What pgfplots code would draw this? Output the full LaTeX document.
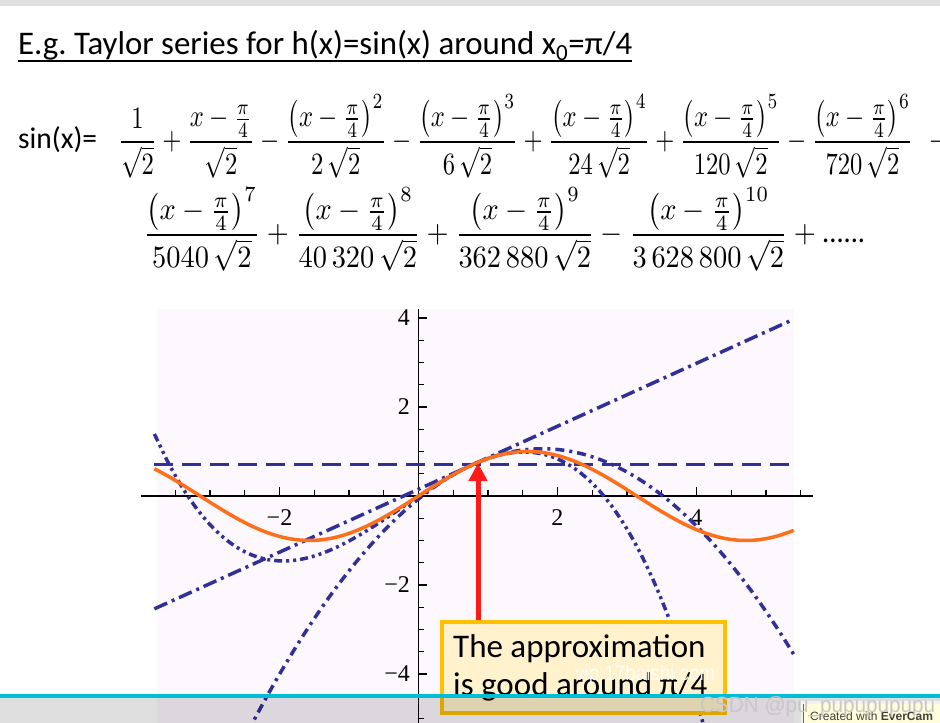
\documentclass[border=0pt]{standalone}
\usepackage{fontspec}
\setmainfont{Carlito}
\newfontfamily\tms{Liberation Serif}
\newfontfamily\arl{Liberation Sans}
\usepackage{graphicx}
\usepackage{pgfplots}
\pgfplotsset{compat=1.18}
\usetikzlibrary{arrows.meta}
\definecolor{mblue}{RGB}{48,48,150}
\definecolor{morange}{RGB}{255,110,25}
\definecolor{lav}{RGB}{252,248,254}
\definecolor{boxfill}{RGB}{255,242,204}
\definecolor{boxedge}{RGB}{255,192,0}
\definecolor{cyanl}{RGB}{0,190,215}
\definecolor{arrred}{RGB}{255,25,25}
\newcommand{\qf}{{\textstyle\frac{\pi}{4}}}
\newcommand{\pf}[1]{\left(x-\qf\right)^{#1}}
\frenchspacing
\begin{document}
\begin{tikzpicture}
\clip (0,0) rectangle (940pt,-723pt);
\fill[white] (0,0) rectangle (940pt,-723pt);
\fill[black!12] (0,0) rectangle (940pt,-6pt);
% title
\node[anchor=base west, inner sep=0pt] at (18pt,-54pt)
  {\resizebox{614pt}{\height}{\fontsize{33}{33}\selectfont E.g. Taylor series for h(x)=sin(x) around x\textsubscript{0}=π/4}};
\draw[line width=2pt] (18pt,-60.5pt) -- (632pt,-60.5pt);
% formula
\node[anchor=base west, inner sep=0pt] at (18pt,-148.5pt)
  {\resizebox{79pt}{\height}{\fontsize{30}{30}\selectfont sin(x)=}};
\node[anchor=base west, inner sep=0pt] at (118pt,-149.75pt)
  {\resizebox{795pt}{\height}{\scalebox{3.1}{$\displaystyle \frac{1}{\sqrt{2}}+\frac{x-\qf}{\sqrt{2}}-\frac{\pf{2}}{2\,\sqrt{2}}-\frac{\pf{3}}{6\,\sqrt{2}}+\frac{\pf{4}}{24\,\sqrt{2}}+\frac{\pf{5}}{120\,\sqrt{2}}-\frac{\pf{6}}{720\,\sqrt{2}}$}}};
\node[anchor=base west, inner sep=0pt] at (929pt,-149.75pt)
  {\resizebox{16pt}{\height}{\scalebox{3.1}{$-$}}};
\node[anchor=base west, inner sep=0pt] at (143pt,-242.75pt)
  {\resizebox{722pt}{\height}{\scalebox{3.1}{$\displaystyle \frac{\pf{7}}{5040\,\sqrt{2}}+\frac{\pf{8}}{40\,320\,\sqrt{2}}+\frac{\pf{9}}{362\,880\,\sqrt{2}}-\frac{\pf{10}}{3\,628\,800\,\sqrt{2}}+\mbox{......}$}}};
% plot region tint
\fill[lav] (156.5pt,-309pt) rectangle (793.8pt,-723pt);
% plot
\begin{axis}[
  at={(140.5pt,-723pt)}, anchor=south west,
  scale only axis, width=672pt, height=414pt,
  xmin=-4, xmax=5.67, ymin=-5.1, ymax=4.2,
  axis lines=middle,
  axis line style={-, line width=1.6pt, black},
  every inner x axis line/.append style={-},
  every inner y axis line/.append style={-},
  xtick={-2,2,4}, xticklabels={−2,2,4},
  ytick={-4,-2,2,4}, yticklabels={−4,−2,2,4},
  minor xtick={-3.5,-3,...,5.5},
  minor ytick={-5,-4.5,...,4},
  tick align=inside,
  major tick length=9pt, minor tick length=6pt,
  every tick/.style={line width=1.3pt, black},
  every minor tick/.style={line width=1.3pt, black},
  ticklabel style={font=\tms\fontsize{24}{24}\selectfont},
  xticklabel style={yshift=-10pt},
  yticklabel style={xshift=-5pt},
  clip=true,
]
% zeroth order
\addplot[mblue, line width=3.5pt, dash pattern=on 19pt off 9pt] coordinates {(-3.8,0.7071) (5.4,0.7071)};
% first order
\addplot[mblue, line width=3.5pt, dash pattern=on 14pt off 5pt on 3pt off 5pt] coordinates {(-3.8,-2.5353) (5.4,3.9702)};
% second order
\addplot[mblue, line width=3.5pt, smooth, dash pattern=on 9pt off 5pt on 3pt off 5pt] coordinates {
(-2.6,-5.7388) (-2.4,-5.1328) (-2.2,-4.5550) (-2.0,-4.0055) (-1.8,-3.4843) (-1.6,-2.9914) (-1.4,-2.5268) (-1.2,-2.0904) (-1.0,-1.6824) (-0.8,-1.3026) (-0.6,-0.9511) (-0.4,-0.6279) (-0.2,-0.3330) (0,-0.0663) (0.2,0.1720) (0.4,0.3821) (0.6,0.5639) (0.8,0.7174) (1.0,0.8426) (1.2,0.9395) (1.4,1.0082) (1.6,1.0485) (1.8,1.0606) (2.0,1.0444) (2.2,0.9999) (2.4,0.9271) (2.6,0.8261) (2.8,0.6967) (3.0,0.5391) (3.2,0.3532) (3.4,0.1390) (3.6,-0.1035) (3.8,-0.3743) (4.0,-0.6733) (4.2,-1.0007) (4.4,-1.3563) (4.6,-1.7402) (4.8,-2.1524) (5.0,-2.5928) (5.2,-3.0616) (5.4,-3.5586)};
% third order
\addplot[mblue, line width=3.5pt, smooth, dash pattern=on 8pt off 4pt on 3pt off 4pt on 3pt off 4pt] coordinates {
(-3.8,1.3932) (-3.6,0.7462) (-3.4,0.1948) (-3.2,-0.2665) (-3.0,-0.6433) (-2.8,-0.9412) (-2.6,-1.1662) (-2.4,-1.3236) (-2.2,-1.4192) (-2.0,-1.4587) (-1.8,-1.4477) (-1.6,-1.3918) (-1.4,-1.2967) (-1.2,-1.1681) (-1.0,-1.0117) (-0.8,-0.8330) (-0.6,-0.6377) (-0.4,-0.4316) (-0.2,-0.2202) (0,-0.0092) (0.2,0.1957) (0.4,0.3888) (0.6,0.5646) (0.8,0.7174) (1.0,0.8414) (1.2,0.9311) (1.4,0.9808) (1.6,0.9848) (1.8,0.9375) (2.0,0.8332) (2.2,0.6663) (2.4,0.4311) (2.6,0.1219) (2.8,-0.2669) (3.0,-0.7410) (3.2,-1.3060) (3.4,-1.9675) (3.6,-2.7313) (3.8,-3.6030) (4.0,-4.5883) (4.2,-5.6927)};
% sin
\addplot[morange, line width=3.5pt, smooth] coordinates {
(-3.8,0.61186) (-3.6,0.44252) (-3.4,0.25554) (-3.2,0.05837) (-3.0,-0.14112) (-2.8,-0.33499) (-2.6,-0.51550) (-2.4,-0.67546) (-2.2,-0.80850) (-2.0,-0.90930) (-1.8,-0.97385) (-1.6,-0.99957) (-1.4,-0.98545) (-1.2,-0.93204) (-1.0,-0.84147) (-0.8,-0.71736) (-0.6,-0.56464) (-0.4,-0.38942) (-0.2,-0.19867) (0,0) (0.2,0.19867) (0.4,0.38942) (0.6,0.56464) (0.8,0.71736) (1.0,0.84147) (1.2,0.93204) (1.4,0.98545) (1.6,0.99957) (1.8,0.97385) (2.0,0.90930) (2.2,0.80850) (2.4,0.67546) (2.6,0.51550) (2.8,0.33499) (3.0,0.14112) (3.2,-0.05837) (3.4,-0.25554) (3.6,-0.44252) (3.8,-0.61186) (4.0,-0.75680) (4.2,-0.87158) (4.4,-0.95160) (4.6,-0.99369) (4.8,-0.99616) (5.0,-0.95892) (5.2,-0.88345) (5.4,-0.77276)};
\end{axis}
% arrow and callout
\draw[arrred, line width=5pt, -{Triangle[length=18pt,width=18pt]}] (478pt,-624pt) -- (478pt,-463pt);
\draw[boxedge, line width=3.5pt, fill=boxfill] (442pt,-622pt) rectangle (725pt,-713pt);
\node[anchor=base west, inner sep=0pt] at (453pt,-657pt) {\fontsize{33}{33}\selectfont The approximation};
\node[anchor=base west, inner sep=0pt] at (453pt,-695pt) {\fontsize{33}{33}\selectfont is good around π/4};
\node[anchor=base west, inner sep=0pt, white, opacity=0.9] at (575pt,-680pt) {\resizebox{140pt}{\height}{\arl\fontsize{21}{21}\selectfont vip.17baishi.com}};
% screenshot overlays
\fill[black, opacity=0.13] (0,-697pt) rectangle (940pt,-723pt);
\fill[cyanl] (0,-693.5pt) rectangle (940pt,-697.5pt);
\fill[black!5] (801pt,-701pt) rectangle (940pt,-723pt);
\fill[yellow!15] (803pt,-704pt) rectangle (940pt,-723pt);
\draw[black!60, line width=0.8pt] (803pt,-704pt) -- (803pt,-723pt);
\node[anchor=base west, inner sep=0pt, black!75] at (810pt,-720pt) {\arl\fontsize{12}{12}\selectfont Created with \textbf{EverCam}};
\node[anchor=base west, inner sep=0pt, black!22] at (700pt,-712pt) {\resizebox{235pt}{\height}{\arl\fontsize{22}{22}\selectfont CSDN @pu\_pupupupupu}};
\end{tikzpicture}
\end{document}
